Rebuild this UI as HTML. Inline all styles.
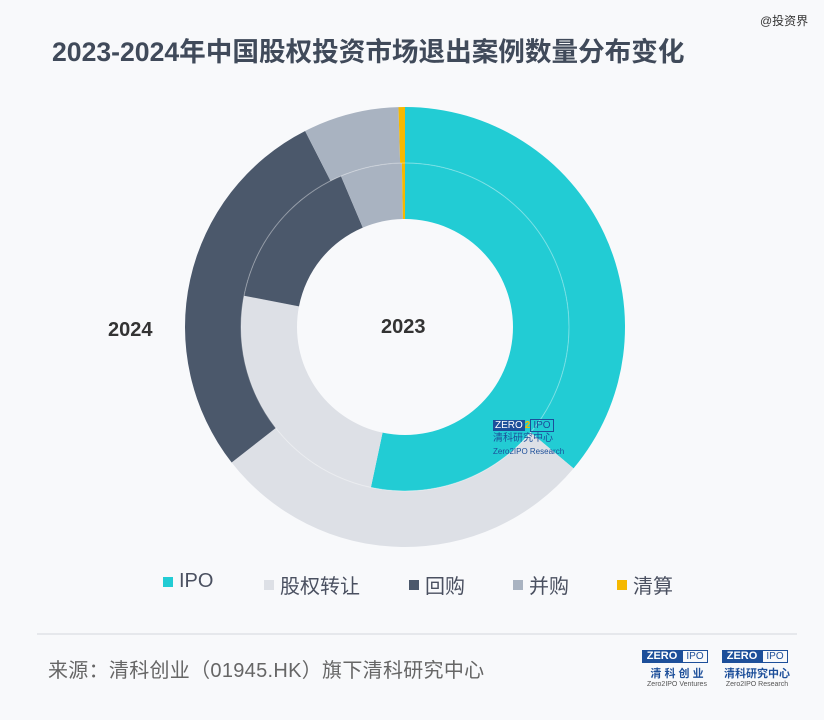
<!DOCTYPE html>
<html><head><meta charset="utf-8"><style>
body{margin:0;width:824px;height:720px;background:#f8f9fb;font-family:"Liberation Sans","Noto Sans CJK SC",sans-serif;position:relative;overflow:hidden}
.t{position:absolute;left:52px;top:30px;font-size:26.6px;font-weight:bold;color:#404a5a;letter-spacing:0}
.wm{position:absolute;left:760px;top:12px;font-size:12px;color:#333}
.lg{position:absolute;top:570px;font-size:20px;color:#4a5060;display:flex;align-items:center}
.lg i{display:inline-block;width:10px;height:10px;margin-right:6px}
.hr{position:absolute;left:37px;top:633px;width:760px;height:2px;background:#e6e8ec}
.src{position:absolute;left:48px;top:654px;font-size:20px;color:#666;letter-spacing:0.3px}
.logo{position:absolute;top:650px;width:70px;font-size:9px;text-align:center;color:#1d4f9a}
.logo b{display:block;background:#1d4f9a;color:#fff;font-size:11px;width:40px;height:13px;line-height:13px;float:left}
.logo span{display:block}
</style></head><body>
<div class="wm">@投资界</div>
<div class="t">2023-2024年中国股权投资市场退出案例数量分布变化</div>
<svg width="824" height="720" style="position:absolute;left:0;top:0" id="s"></svg>
<div style="position:absolute;left:108px;top:319px;font-size:20px;font-weight:bold;color:#333">2024</div>
<div style="position:absolute;left:381px;top:316px;font-size:20px;font-weight:bold;color:#333">2023</div>
<div style="position:absolute;left:493px;top:419px;font-size:10px;color:#1d4f9a;line-height:13px"><span style="background:#1d4f9a;color:#fff;padding:0 2px">ZERO</span><span style="color:#f5b800;font-weight:bold">2</span><span style="border:1px solid #1d4f9a;padding:0 2px">IPO</span><br>清科研究中心<br><span style="font-size:8px">Zero2IPO Research</span></div>
<div class="lg" style="left:163px"><i style="background:#22ccd4"></i>IPO</div>
<div class="lg" style="left:264px"><i style="background:#dde0e6"></i>股权转让</div>
<div class="lg" style="left:409px"><i style="background:#4b586b"></i>回购</div>
<div class="lg" style="left:513px"><i style="background:#a9b3c1"></i>并购</div>
<div class="lg" style="left:617px"><i style="background:#f5b800"></i>清算</div>
<div class="hr"></div>
<div class="src">来源：清科创业（01945.HK）旗下清科研究中心</div>
<div class="logo" style="left:642px"><div style="height:15px"><b>ZERO</b><span style="float:left;border:1px solid #1d4f9a;font-size:10px;width:24px;height:11px;line-height:11px">IPO</span></div><span style="font-weight:bold;font-size:11px">清 科 创 业</span><span style="font-size:7px;color:#555">Zero2IPO Ventures</span></div>
<div class="logo" style="left:722px"><div style="height:15px"><b>ZERO</b><span style="float:left;border:1px solid #1d4f9a;font-size:10px;width:24px;height:11px;line-height:11px">IPO</span></div><span style="font-weight:bold;font-size:11px">清科研究中心</span><span style="font-size:7px;color:#555">Zero2IPO Research</span></div>
<script>
var cx=405,cy=327,s=document.getElementById('s'),h='';
function p(a,r){a=(a-90)*Math.PI/180;return [cx+r*Math.cos(a),cy+r*Math.sin(a)];}
function arc(a0,a1,r0,r1,c){var l=(a1-a0)>180?1:0,A=p(a0,r1),B=p(a1,r1),C=p(a1,r0),D=p(a0,r0);
h+='<path fill="'+c+'" d="M'+A+' A'+r1+','+r1+' 0 '+l+' 1 '+B+' L'+C+' A'+r0+','+r0+' 0 '+l+' 0 '+D+'Z"/>';}
var C=['#22ccd4','#dde0e6','#4b586b','#a9b3c1','#f5b800'];
var o=[0,130,232,333,358.3,360],n=[0,192,281,337,358.9,360];
for(var i=0;i<5;i++){arc(o[i],o[i+1],164,220,C[i]);arc(n[i],n[i+1],108,164,C[i]);}
h+='<circle cx="'+cx+'" cy="'+cy+'" r="164" fill="none" stroke="rgba(255,255,255,0.35)" stroke-width="1"/>';
s.innerHTML=h;
</script>
</body></html>
